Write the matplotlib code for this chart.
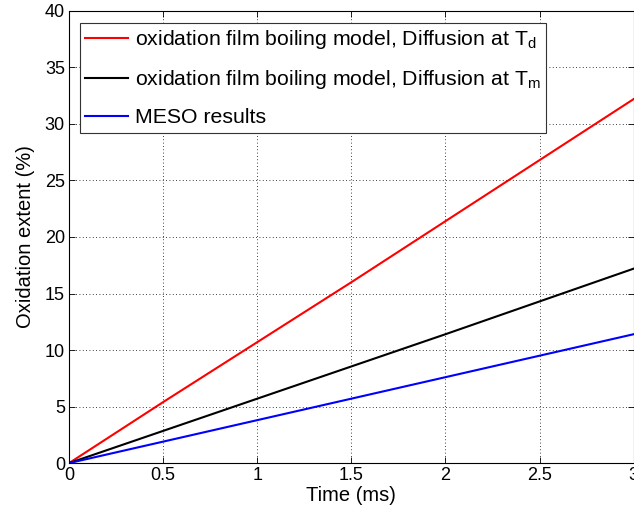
import matplotlib
matplotlib.use("Agg")
import matplotlib.pyplot as plt

plt.rcParams['font.family'] = ['Liberation Sans', 'DejaVu Sans']
plt.rcParams['mathtext.fontset'] = 'custom'
plt.rcParams['mathtext.rm'] = 'Liberation Sans'
plt.rcParams['mathtext.it'] = 'Liberation Sans'

time_ms = [0, 0.5, 1, 1.5, 2, 2.5, 3]
red_td = [0, 5.4, 10.7, 16.0, 21.4, 26.8, 32.2]
black_tm = [0, 2.85, 5.7, 8.55, 11.4, 14.3, 17.2]
blue_meso = [0, 1.9, 3.8, 5.7, 7.6, 9.5, 11.4]
labels = [r'oxidation film boiling model, Diffusion at T$_{\mathrm{d}}$',
          r'oxidation film boiling model, Diffusion at T$_{\mathrm{m}}$',
          'MESO results']
xticks = [0, 0.5, 1, 1.5, 2, 2.5, 3]
yticks = [0, 5, 10, 15, 20, 25, 30, 35, 40]

fig = plt.figure(figsize=(6.34, 5.18), dpi=100)
ax = fig.add_axes([0.109, 0.106, 0.8905, 0.873])
ax.plot(time_ms, red_td, color='#ff0000', lw=1.5, label=labels[0])
ax.plot(time_ms, black_tm, color='#000000', lw=1.5, label=labels[1])
ax.plot(time_ms, blue_meso, color='#0000ff', lw=1.5, label=labels[2])
ax.set_xlim(0, 3)
ax.set_ylim(0, 40)
ax.set_xticks(xticks)
ax.set_xticklabels(['0', '0.5', '1', '1.5', '2', '2.5', '3'])
ax.set_yticks(yticks)
ax.tick_params(direction='in', length=4, labelsize=13, top=True, right=True, width=0.6, pad=3)
ax.grid(True, linestyle=(0, (1, 3)), color='#000000', lw=0.6)
for s in ax.spines.values():
    s.set_linewidth(0.8)
ax.set_xlabel('Time (ms)', fontsize=14.5, labelpad=1)
ax.set_ylabel('Oxidation extent (%)', fontsize=14.5, labelpad=7)
leg = ax.legend(loc='upper left', bbox_to_anchor=(0.0195, 0.973), borderaxespad=0,
                fontsize=15.3, handlelength=2.0, labelspacing=0.8, borderpad=0.25,
                fancybox=False, framealpha=1, edgecolor='#333333',
                handletextpad=0.35)
leg.get_frame().set_linewidth(0.8)
fig.savefig('out.png', dpi=100)
